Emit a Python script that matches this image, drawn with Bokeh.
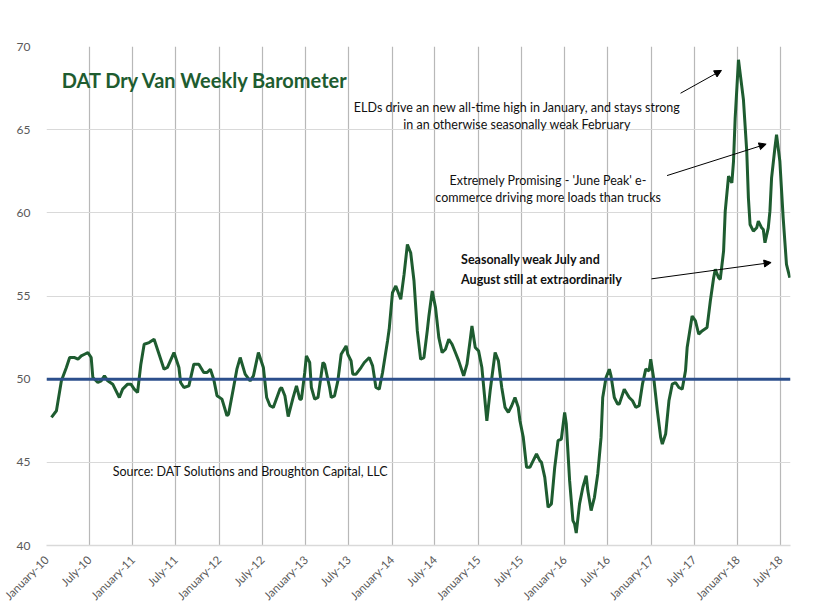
import math
import pandas as pd
from bokeh.plotting import figure
from bokeh.models import (Range1d, MonthsTicker, DatetimeTickFormatter, Span,
                          Label, Arrow, NormalHead, FixedTicker)
from bokeh.embed import file_html
from bokeh.resources import INLINE

# weeks since 1 January 2010, and the barometer reading for that week
weeks = [3, 6, 9, 12, 14, 17, 19, 21, 23, 25, 27, 28, 31, 33, 35, 37, 40, 42, 44, 46,
         49, 51, 53, 55, 57, 59, 62, 65, 68, 71, 73, 77, 80, 81, 83, 86, 89, 92, 95, 97,
         99, 101, 103, 106, 109, 110, 113, 115, 117, 120, 123, 125, 128, 131, 133, 135, 137, 141, 142, 144,
         146, 149, 151, 153, 154, 156, 157, 159, 160, 162, 164, 167, 168, 171, 172, 174, 176, 178, 181, 182,
         184, 185, 187, 190, 192, 195, 197, 199, 201, 203, 206, 207, 209, 211, 214, 216, 218, 220, 222, 224,
         226, 228, 230, 231, 233, 235, 237, 239, 241, 243, 245, 247, 249, 252, 254, 256, 257, 259, 261, 263,
         266, 268, 271, 273, 275, 277, 279, 281, 283, 285, 286, 288, 290, 292, 294, 296, 298, 299, 301, 303,
         305, 307, 309, 311, 313, 314, 316, 318, 319, 320, 322, 324, 326, 327, 329, 331, 333, 335, 336, 338,
         340, 341, 343, 345, 346, 349, 352, 354, 356, 358, 360, 362, 364, 365, 367, 369, 371, 372, 374, 376,
         378, 380, 382, 384, 386, 387, 390, 392, 394, 396, 399, 401, 403, 404, 406, 407, 409, 410, 412, 414,
         415, 416, 418, 419, 421, 423, 424, 425, 427, 429, 430, 432, 433, 434, 436, 437, 438, 440, 441, 443,
         445, 447, 449]
barometer = [47.7, 48.1, 49.9, 50.7, 51.3, 51.3, 51.2, 51.4, 51.5, 51.6, 51.3, 50.1, 49.8, 49.9, 50.2, 49.9, 49.7, 49.3, 48.9, 49.4,
             49.7, 49.7, 49.4, 49.2, 50.9, 52.1, 52.2, 52.4, 51.5, 50.6, 50.7, 51.6, 50.7, 49.8, 49.5, 49.6, 50.9, 50.9, 50.4, 50.4,
             50.6, 50.0, 49.0, 48.8, 47.8, 47.9, 49.5, 50.6, 51.3, 50.3, 49.9, 50.2, 51.6, 50.7, 48.9, 48.4, 48.3, 49.4, 49.5, 49.0,
             47.75, 48.9, 49.6, 48.8, 48.8, 50.4, 51.4, 51.0, 49.5, 48.8, 48.9, 51.0, 50.9, 49.5, 48.9, 49.0, 49.9, 51.5, 52.0, 51.5,
             51.1, 50.3, 50.3, 50.7, 51.0, 51.3, 50.8, 49.5, 49.4, 50.4, 52.3, 53.0, 55.2, 55.6, 54.8, 56.3, 58.1, 57.6, 55.9, 52.9,
             51.2, 51.3, 52.9, 53.8, 55.3, 54.3, 52.5, 51.6, 51.8, 52.4, 52.1, 51.6, 51.1, 50.2, 50.9, 52.4, 53.2, 51.9, 51.7, 50.7,
             47.5, 49.3, 51.6, 51.1, 49.5, 48.3, 48.0, 48.4, 48.9, 48.3, 47.5, 46.5, 44.7, 44.7, 45.1, 45.5, 45.1, 45.0, 44.1, 42.3,
             42.5, 44.7, 46.3, 46.4, 48.0, 47.3, 43.9, 41.5, 41.3, 40.75, 42.5, 43.5, 44.2, 43.3, 42.1, 42.9, 44.3, 46.5, 48.9, 50.1,
             50.6, 50.2, 48.9, 48.5, 48.5, 49.4, 48.9, 48.7, 48.3, 48.4, 49.7, 50.6, 50.5, 51.2, 49.9, 48.1, 46.5, 46.1, 46.7, 48.7,
             49.7, 49.8, 49.5, 49.4, 50.5, 51.9, 53.8, 53.5, 52.7, 52.9, 53.1, 54.7, 56.1, 56.6, 56.1, 56.0, 57.7, 60.1, 62.2, 61.8,
             63.1, 65.7, 69.2, 68.4, 66.8, 63.7, 60.9, 59.3, 58.9, 59.1, 59.5, 59.1, 59.0, 58.2, 59.1, 60.1, 62.1, 63.9, 64.7, 63.1,
             59.7, 56.9, 56.1]

start = pd.Timestamp("2010-01-01")
dates = [start + pd.Timedelta(weeks=w) for w in weeks]


def ms(s):
    return pd.Timestamp(s).timestamp() * 1000


green = "#1e5c30"
font = "Lato"

p = figure(frame_width=744, frame_height=499, x_axis_type="datetime", output_backend="svg",
           toolbar_location=None, min_border_left=46, min_border_top=46,
           min_border_right=40, min_border_bottom=40,
           x_range=Range1d(ms("2010-01-01"), ms("2018-08-13")),
           y_range=Range1d(40, 70))
p.outline_line_color = None

p.xaxis.ticker = MonthsTicker(months=[0, 6])
p.xaxis.formatter = DatetimeTickFormatter(months="%B-%y", days="%B-%y")
p.xaxis.major_label_orientation = math.pi / 4
p.xaxis.major_label_text_font = font
p.xaxis.major_label_text_font_size = "11.5px"
p.xaxis.major_label_text_color = "#595959"
p.xaxis.axis_line_color = "#d9d9d9"
p.xaxis.axis_line_width = 1.5
p.xaxis.major_tick_line_color = None
p.xaxis.minor_tick_line_color = None
p.xaxis.major_label_standoff = 6

p.yaxis.ticker = FixedTicker(ticks=[40, 45, 50, 55, 60, 65, 70])
p.yaxis.axis_line_color = None
p.yaxis.major_tick_line_color = None
p.yaxis.minor_tick_line_color = None
p.yaxis.major_label_text_font = font
p.yaxis.major_label_text_font_size = "12px"
p.yaxis.major_label_text_color = "#595959"
p.yaxis.major_label_standoff = 10

p.xgrid.grid_line_color = "#b8b8b8"
p.xgrid.grid_line_width = 1.2
p.ygrid.grid_line_color = "#d9d9d9"
p.ygrid.grid_line_width = 1.2

p.add_layout(Span(location=50, dimension="width", line_color="#2c4f8c", line_width=3))
p.line(dates, barometer, line_color=green, line_width=3)

p.add_layout(Label(x=ms("2010-03-06"), y=67.96, text="DAT Dry Van Weekly Barometer",
                   text_font=font, text_font_style="bold", text_font_size="20px",
                   text_color=green, text_baseline="middle"))

notes = [
    ("2015-06-14", 66.33, "ELDs drive an new all-time high in January, and stays strong", "center", "normal"),
    ("2015-06-14", 65.31, "in an otherwise seasonally weak February", "center", "normal"),
    ("2015-10-23", 61.94, "Extremely Promising - 'June Peak' e-", "center", "normal"),
    ("2015-10-23", 60.92, "commerce driving more loads than trucks", "center", "normal"),
    ("2014-10-20", 57.19, "Seasonally weak July and", "left", "bold"),
    ("2014-10-20", 55.99, "August still at extraordinarily", "left", "bold"),
    ("2010-10-08", 44.44, "Source: DAT Solutions and Broughton Capital, LLC", "left", "normal"),
]
for d, v, t, align, style in notes:
    p.add_layout(Label(x=ms(d), y=v, text=t, text_font=font, text_font_size="12.5px",
                       text_font_style=style, text_color="#111111",
                       text_align=align, text_baseline="middle"))

arrows = [
    ("2017-05-05", 67.19, "2017-10-25", 68.56),
    ("2017-03-09", 62.24, "2018-05-02", 64.13),
    ("2017-01-02", 56.03, "2018-05-23", 57.01),
]
for d0, v0, d1, v1 in arrows:
    p.add_layout(Arrow(end=NormalHead(size=7, fill_color="black", line_color="black"),
                       x_start=ms(d0), y_start=v0, x_end=ms(d1), y_end=v1,
                       line_color="black", line_width=1))

open("out.html", "w").write(file_html(p, INLINE))
